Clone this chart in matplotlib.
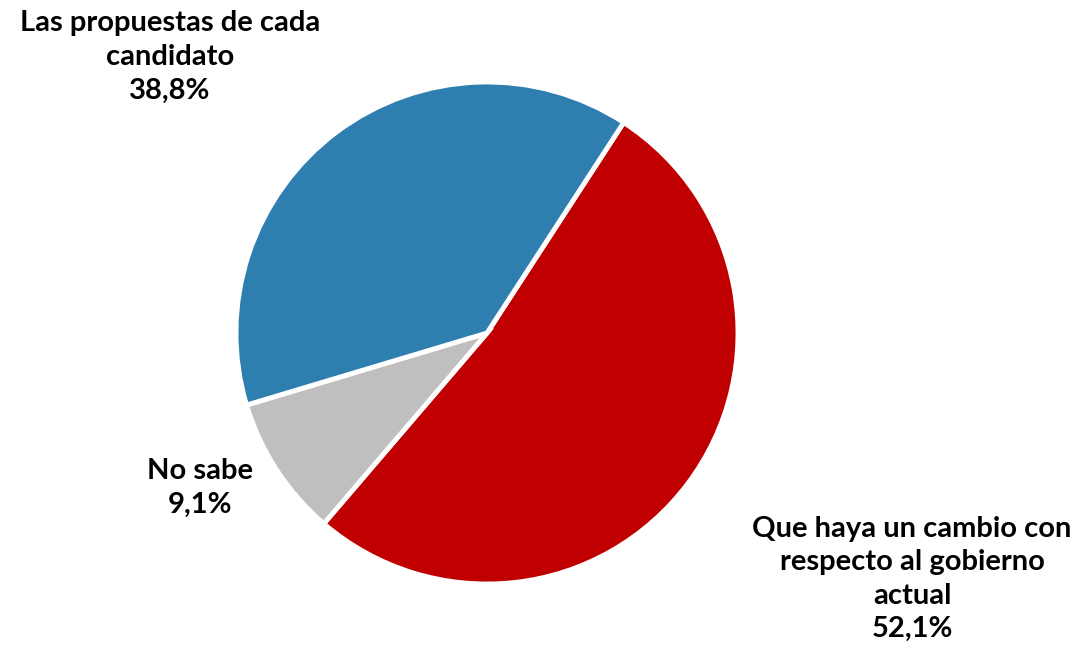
import matplotlib.pyplot as plt

# data
labels = ['Que haya un cambio con\nrespecto al gobierno\nactual', 'No sabe',
          'Las propuestas de cada\ncandidato']
values = [52.1, 9.1, 38.8]
colors = ['#C00000', '#BFBFBF', '#2E7EB0']

W, H = 1080, 653
fig = plt.figure(figsize=(W / 100, H / 100), dpi=100)

# pie centre ~ (487, 333) px, radius ~251 px
cx, cy, r = 487, 333, 251
ax = fig.add_axes([(cx - r) / W, (H - cy - r) / H, 2 * r / W, 2 * r / H])
ax.pie(values, colors=colors, startangle=57, counterclock=False,
       wedgeprops=dict(edgecolor='white', linewidth=3.5))
ax.set_xlim(-1, 1)
ax.set_ylim(-1, 1)
ax.set_aspect('equal')
ax.axis('off')

# label positions in pixels (centre of text block)
label_pos = [(912, 579), (200, 488), (170, 57)]
for lab, v, (px, py) in zip(labels, values, label_pos):
    txt = lab + '\n' + f'{v:.1f}'.replace('.', ',') + '%'
    fig.text(px / W, 1 - py / H, txt, ha='center', va='center',
             fontsize=21, fontweight='bold', family='Lato',
             linespacing=1.36, color='black')

fig.savefig('out.png', dpi=100)
